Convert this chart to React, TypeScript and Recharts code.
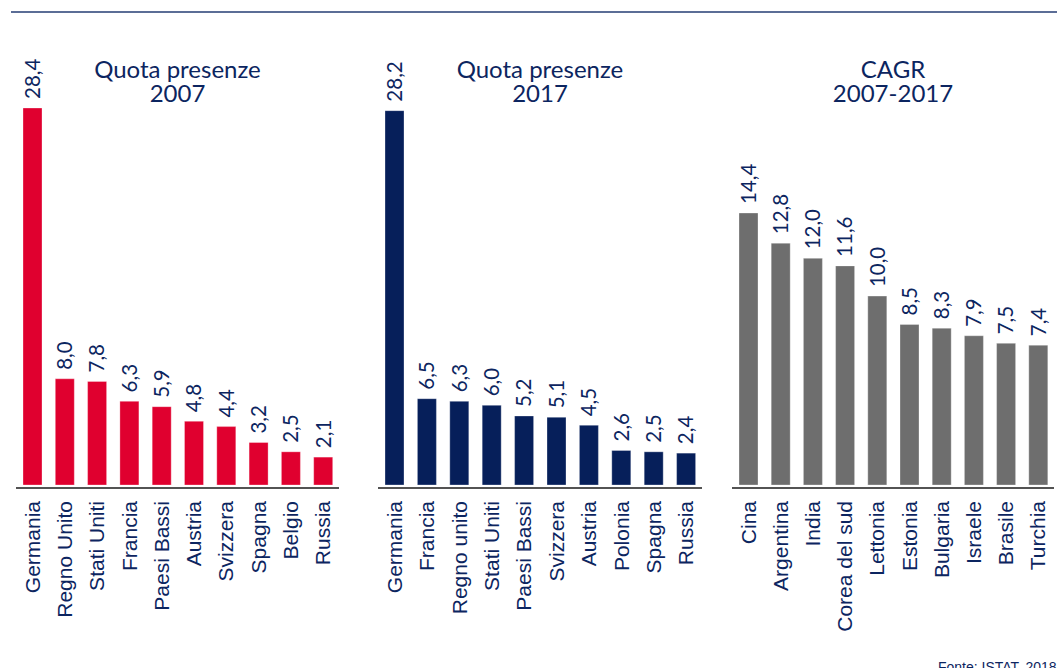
import React from 'react';
import { BarChart, Bar, XAxis, YAxis, LabelList } from 'recharts';

const CATS_2007 = ['Germania', 'Regno Unito', 'Stati Uniti', 'Francia', 'Paesi Bassi', 'Austria', 'Svizzera', 'Spagna', 'Belgio', 'Russia'];
const VALS_2007 = [28.4, 8.0, 7.8, 6.3, 5.9, 4.8, 4.4, 3.2, 2.5, 2.1];

const CATS_2017 = ['Germania', 'Francia', 'Regno unito', 'Stati Uniti', 'Paesi Bassi', 'Svizzera', 'Austria', 'Polonia', 'Spagna', 'Russia'];
const VALS_2017 = [28.2, 6.5, 6.3, 6.0, 5.2, 5.1, 4.5, 2.6, 2.5, 2.4];

const CATS_CAGR = ['Cina', 'Argentina', 'India', 'Corea del sud', 'Lettonia', 'Estonia', 'Bulgaria', 'Israele', 'Brasile', 'Turchia'];
const VALS_CAGR = [14.4, 12.8, 12.0, 11.6, 10.0, 8.5, 8.3, 7.9, 7.5, 7.4];

const TITLES = [
  ['Quota presenze', '2007'],
  ['Quota presenze', '2017'],
  ['CAGR', '2007-2017'],
];
const SOURCE = 'Fonte: ISTAT, 2018';

const NAVY_TEXT = '#0c2560';
const RED = '#e0002f';
const NAVY = '#061f5a';
const GREY = '#6e6e6e';

const build = (cats: string[], vals: number[]) => cats.map((name, i) => ({ name, value: vals[i] }));

const CatTick = (props: any) => {
  const { x, y, payload } = props;
  return (
    <text
      x={x}
      y={y}
      transform={`rotate(-90, ${x}, ${y})`}
      textAnchor="end"
      dy="0.36em"
      fill={NAVY_TEXT}
      fontFamily="'Liberation Sans', Arial, sans-serif"
      fontSize={21}
    >
      {payload.value}
    </text>
  );
};

const ValueLabel = (props: any) => {
  const { x, y, width, value } = props;
  const cx = Number(x) + Number(width) / 2;
  const ty = Number(y) - 9;
  return (
    <text
      x={cx}
      y={ty}
      transform={`rotate(-90, ${cx}, ${ty})`}
      textAnchor="start"
      dy="0.36em"
      fill={NAVY_TEXT}
      fontFamily="Lato, 'Open Sans', sans-serif"
      fontSize={20.5}
    >
      {Number(value).toFixed(1).replace('.', ',')}
    </text>
  );
};

type PanelProps = {
  data: { name: string; value: number }[];
  color: string;
  left: number;
  width: number;
  margin: { top: number; right: number; bottom: number; left: number };
  domain: [number, number];
};

const Panel = ({ data, color, left, width, margin, domain }: PanelProps) => (
  <div style={{ position: 'absolute', left, top: 0 }}>
    <BarChart width={width} height={668} data={data} margin={margin} barSize={19}>
      <XAxis
        dataKey="name"
        interval={0}
        tickLine={false}
        tickSize={0}
        tickMargin={13}
        height={170}
        axisLine={{ stroke: '#1a1a1a', strokeWidth: 1.6 }}
        tick={<CatTick />}
      />
      <YAxis hide type="number" domain={domain} />
      <Bar dataKey="value" fill={color} isAnimationActive={false} stroke="#ffffff" strokeOpacity={0.3} strokeWidth={1}>
        <LabelList dataKey="value" content={<ValueLabel />} />
      </Bar>
    </BarChart>
  </div>
);

const centers = [177.5, 540, 893];

export default function App() {
  return (
    <div style={{ position: 'absolute', left: 0, top: 0, width: 1057, height: 668, overflow: 'hidden', background: '#ffffff' }}>
      <Panel
        data={build(CATS_2007, VALS_2007)}
        color={RED}
        left={0}
        width={360}
        margin={{ top: 108, right: 21, bottom: 10, left: 16 }}
        domain={[-0.226, 28.4]}
      />
      <Panel
        data={build(CATS_2017, VALS_2017)}
        color={NAVY}
        left={360}
        width={360}
        margin={{ top: 108, right: 18, bottom: 10, left: 18 }}
        domain={[-0.226, 28.4]}
      />
      <Panel
        data={build(CATS_CAGR, VALS_CAGR)}
        color={GREY}
        left={720}
        width={337}
        margin={{ top: 213, right: 3, bottom: 10, left: 12 }}
        domain={[-0.159, 14.4]}
      />
      <svg width={1057} height={668} style={{ position: 'absolute', left: 0, top: 0, pointerEvents: 'none' }}>
        <line x1={11} y1={12} x2={1057} y2={12} stroke="#5b6d96" strokeWidth={2} />
        {TITLES.map((t, i) => (
          <g key={i} fill={NAVY_TEXT} fontFamily="Lato, 'Open Sans', sans-serif" fontSize={24} textAnchor="middle">
            <text x={centers[i]} y={78}>{t[0]}</text>
            <text x={centers[i]} y={102}>{t[1]}</text>
          </g>
        ))}
        <text x={938} y={672} fill={NAVY_TEXT} fontFamily="'Liberation Sans', Arial, sans-serif" fontSize={14}>
          {SOURCE}
        </text>
      </svg>
    </div>
  );
}
